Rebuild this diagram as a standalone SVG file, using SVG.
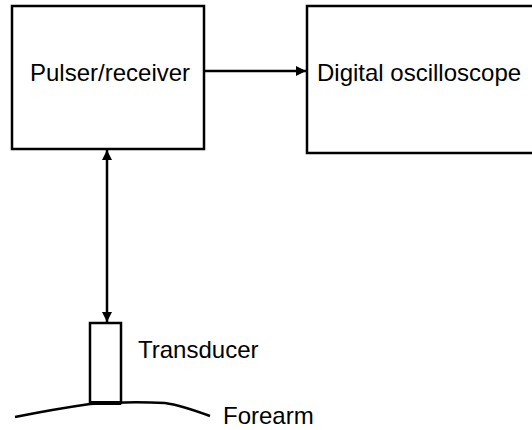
<svg xmlns="http://www.w3.org/2000/svg" width="532" height="430" viewBox="0 0 532 430">
<style>
.box{fill:#fff;stroke:#000;stroke-width:2.5}
.ln{fill:none;stroke:#000;stroke-width:2.5}
.t{font-family:"Liberation Sans",Arial,sans-serif;font-size:24px;fill:#000}
</style>
<defs>
<marker id="ah" viewBox="0 0 10 10" refX="10" refY="5" markerWidth="4" markerHeight="4" orient="auto-start-reverse" markerUnits="strokeWidth">
<path d="M0,0 L10,5 L0,10 z" fill="#000"/>
</marker>
</defs>
<g id="pulser">
<rect class="box" x="12" y="6" width="192" height="143"/>
<text class="t" x="30" y="81">Pulser/receiver</text>
</g>
<g id="oscilloscope">
<rect class="box" x="307" y="6" width="240" height="147"/>
<text class="t" x="317" y="81">Digital oscilloscope</text>
</g>
<g id="transducer">
<rect class="box" x="90" y="323" width="31" height="80"/>
<line x1="90" y1="403" x2="121" y2="403" stroke="#000" stroke-width="4"/>
<text class="t" x="138" y="358">Transducer</text>
</g>
<g id="forearm">
<path class="ln" d="M15,417 Q55,409 90,404 Q130,401 165,403 Q180,405 210,416" stroke-width="2"/>
<text class="t" x="223" y="424">Forearm</text>
</g>
<g id="connectors">
<line class="ln" x1="204" y1="71" x2="306" y2="71" marker-end="url(#ah)"/>
<line class="ln" x1="107" y1="150" x2="107" y2="322" marker-start="url(#ah)" marker-end="url(#ah)"/>
</g>
</svg>
